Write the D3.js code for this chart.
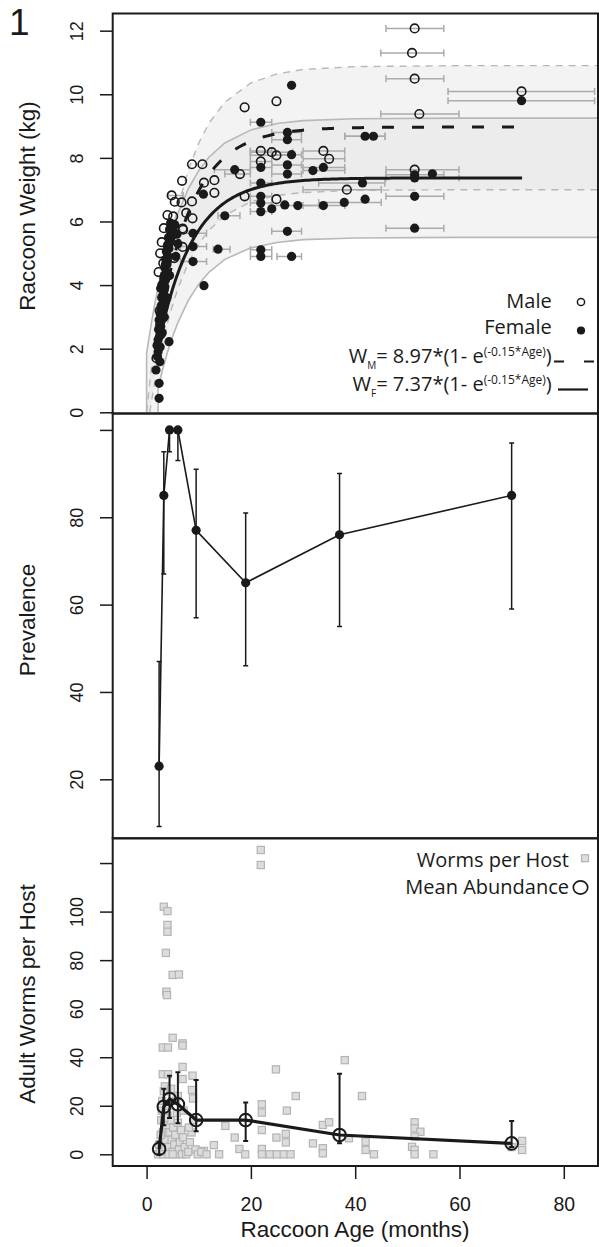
<!DOCTYPE html>
<html>
<head>
<meta charset="utf-8">
<script src="https://cdn.jsdelivr.net/npm/d3@7"></script>
<style>
  body { margin: 0; background: #fff; }
  svg { display: block; }
  .ax { font-family: "Liberation Sans", Arial, Helvetica, sans-serif; }
  .lg { font-family: "Open Sans", "Noto Sans", sans-serif; }
</style>
</head>
<body>
<svg id="chart" width="599" height="1247"></svg>
<script>
// ---- data ----
// weight panel: [age (months), weight (kg), age low, age high]
var maleWeight = [
  [51.4, 12.07, 45.9, 57.0], [50.9, 11.30, 44.9, 57.0], [51.4, 10.49, 45.9, 57.0],
  [71.9, 10.09, 57.8, 85.9], [52.3, 9.38, 44.9, 59.9], [18.8, 9.59], [24.9, 9.78],
  [21.9, 8.22, 19.9, 24.0], [21.9, 7.89, 19.9, 24.0], [24.0, 8.18, 19.9, 28.0],
  [24.9, 8.08, 19.9, 28.0], [33.9, 8.22, 30.0, 38.0], [35.0, 7.97, 30.0, 38.0],
  [17.9, 7.49, 15.0, 19.9], [18.8, 6.79], [24.9, 6.70], [38.4, 7.00, 30.0, 45.0],
  [51.4, 7.63, 45.9, 59.9],
  [8.7, 7.80], [10.7, 7.80], [6.8, 7.28], [11.0, 7.22], [13.0, 7.30], [13.0, 6.90],
  [4.8, 6.82, 4.2, 7.0], [5.4, 6.62], [6.7, 6.60], [7.6, 6.27], [8.7, 6.63], [8.8, 6.10],
  [6.9, 5.78], [3.3, 5.79], [6.9, 5.20], [5.3, 4.85], [2.3, 4.41], [3.2, 4.69], [1.9, 1.70],
  [2.6, 5.00], [2.9, 5.35], [4.0, 6.20], [7.0, 5.74], [5.1, 6.16], [3.0, 4.00], [2.5, 3.20]
];
var femaleWeight = [
  [27.8, 10.28], [21.9, 9.12, 19.9, 24.0], [71.9, 9.80, 57.8, 85.9],
  [27.0, 8.80, 24.0, 29.7], [27.0, 8.57, 24.0, 29.7], [41.9, 8.68, 38.0, 45.7],
  [43.5, 8.68, 38.0, 45.7], [16.9, 7.63, 13.0, 19.9], [21.9, 7.70, 19.9, 24.0],
  [27.8, 8.10, 24.0, 29.7], [27.0, 7.78, 24.0, 29.7], [27.0, 7.49, 24.0, 29.7],
  [31.9, 7.60, 30.0, 38.0], [33.9, 7.70, 30.0, 38.0], [21.9, 7.21, 19.9, 24.0],
  [21.9, 6.79, 19.9, 24.0], [21.9, 6.58, 19.9, 24.0], [21.9, 6.31, 19.9, 24.0],
  [24.0, 6.40], [29.0, 6.50, 24.0, 33.0], [33.9, 6.50, 30.0, 38.0], [37.9, 6.60, 33.0, 45.0],
  [41.9, 6.70], [41.4, 7.21, 33.0, 45.7], [51.4, 7.47, 45.9, 57.0], [51.4, 7.37, 45.9, 59.9],
  [54.8, 7.50], [51.4, 6.79, 45.9, 57.0], [51.4, 5.79, 45.9, 57.0], [27.0, 5.69, 24.0, 29.7],
  [21.9, 5.11, 19.9, 24.0], [21.9, 4.90, 19.9, 24.0], [27.8, 4.90, 25.0, 29.7],
  [15.0, 6.18, 13.7, 17.9], [10.9, 6.86], [8.9, 5.63, 6.5, 11.5], [8.9, 5.21, 6.5, 11.5],
  [8.9, 4.74, 6.5, 11.5], [13.7, 5.13, 12.8, 16.0], [11.0, 3.98], [26.5, 6.52],
  // young females, the dense cloud
  [2.4, 0.44], [2.4, 0.91], [1.8, 1.33], [2.55, 1.59], [2.2, 1.90], [2.0, 2.10], [2.2, 2.28],
  [4.3, 2.22], [2.5, 2.40], [2.3, 2.60], [2.7, 2.70], [2.4, 2.90], [2.9, 2.90], [2.6, 3.10],
  [3.0, 3.20], [2.8, 3.35], [3.2, 3.45], [2.9, 3.60], [3.3, 3.70], [3.1, 3.85], [3.5, 3.95],
  [3.2, 4.05], [3.6, 4.15], [3.4, 4.30], [3.8, 4.40], [3.5, 4.55], [3.9, 4.65], [3.7, 4.80],
  [4.1, 4.90], [3.8, 5.05], [4.3, 5.15], [4.0, 5.25], [4.5, 5.35], [4.2, 5.50], [4.7, 5.60],
  [4.4, 5.75], [5.0, 5.80], [4.6, 5.95], [5.4, 5.90], [5.8, 5.60], [6.0, 5.30], [5.6, 4.90],
  [3.0, 2.50], [3.4, 3.00], [2.7, 3.90], [3.9, 3.60], [4.4, 4.30],
  [2.1, 1.75], [2.6, 2.05], [2.8, 2.45], [2.5, 2.75], [3.1, 2.95], [2.7, 3.25], [3.3, 3.30],
  [3.0, 3.65], [3.4, 3.85], [3.3, 4.20], [3.7, 4.35], [3.6, 4.65], [4.0, 4.75], [3.9, 5.10],
  [4.2, 5.30], [4.6, 5.45], [4.9, 5.55], [5.2, 5.65]
];
// fitted curves, as printed in the legend: W = asym * (1 - e^(-rate*Age))
var maleFit = { asym: 8.97, rate: 0.15 };
var femaleFit = { asym: 7.37, rate: 0.15 };
// envelope boundaries [age, kg]
var femaleUpper = [[0, 0], [0, 1.86], [1, 2.89], [2, 3.78], [3, 4.54], [4, 5.20], [5, 5.76], [6, 6.25],
  [8, 7.03], [10, 7.60], [12, 8.03], [15, 8.47], [20, 8.88], [25, 9.08], [30, 9.17], [40, 9.23], [60, 9.25], [90, 9.25]];
var femaleLower = [[2.2, 0], [2.2, 0.77], [3, 1.30], [4, 1.89], [5, 2.39], [6, 2.82], [8, 3.52], [10, 4.03],
  [12, 4.41], [15, 4.81], [20, 5.17], [25, 5.34], [30, 5.43], [40, 5.48], [60, 5.50], [90, 5.50]];
var maleUpper = [[0, 0], [1, 1.52], [2, 2.83], [3, 3.95], [4, 4.92], [5, 5.75], [6, 6.47], [8, 7.62],
  [10, 8.47], [12, 9.10], [15, 9.75], [20, 10.36], [25, 10.64], [30, 10.78], [40, 10.87], [60, 10.90], [90, 10.90]];
var maleLower = [[0.6, 0], [1, 0.41], [2, 1.33], [3, 2.12], [4, 2.80], [5, 3.38], [6, 3.89], [8, 4.69],
  [10, 5.29], [12, 5.73], [15, 6.19], [20, 6.62], [25, 6.82], [30, 6.91], [40, 6.98], [60, 7.00], [90, 7.00]];

// age classes shared by prevalence and abundance
var ageClass = [2.4, 3.3, 4.4, 6.0, 9.5, 19, 37, 70];
var prevalence = [23, 85, 100, 100, 77, 65, 76, 85];
var prevLow = [9.2, 67, 95, 93, 57, 46, 55, 59];
var prevHigh = [47, 95, 100, 100, 91, 81, 90, 97];
var abundance = [2.2, 19.6, 22.8, 20.6, 14.1, 14.1, 7.95, 4.5];
var abundLow = [0, 12, 15, 12.8, 9.5, 5.5, 4.6, 3];
var abundHigh = [5.2, 27, 32.4, 33.8, 30.6, 21.3, 33.2, 13.7];

// individual hosts: [age, worms]
var wormsPerHost = [
  [21.9, 125.4], [21.9, 119.2], [3.3, 102], [4.0, 100.2], [4.0, 94.5], [4.0, 91.7], [3.7, 83],
  [5.0, 73.9], [6.2, 74.1], [3.8, 67], [3.9, 65.6], [3.1, 44], [4.1, 44], [5.0, 48], [6.9, 45.7],
  [6.9, 44.8], [6.9, 36], [3.1, 33], [4.1, 33], [6.9, 31], [8.8, 32.4], [8.7, 26.5], [8.9, 23],
  [24.8, 35], [28.6, 24], [22.1, 20.6], [22.1, 17.2], [26.9, 18], [15.1, 11.7], [16.9, 6.9],
  [22.1, 10], [24.9, 6.9], [26.7, 8.4], [26.7, 4.9], [12.9, 3.8], [11.0, 1.4], [13.9, 0],
  [17.8, 2.2], [18.9, 0], [22.1, 2.2], [22.1, 0], [23.6, 0], [25.0, 0], [26.3, 0], [27.6, 0],
  [38.0, 38.8], [41.3, 24], [33.8, 12.1], [35.0, 13.2], [31.9, 4.5], [33.8, 2.5], [33.8, 0.4],
  [38.8, 6.6], [42.0, 5.2], [42.0, 1.8], [43.6, 0], [51.4, 13.2], [51.4, 10.7], [52.5, 9.3],
  [51.4, 7.3], [50.9, 3.1], [51.4, 1.8], [51.4, 0], [55.0, 0], [72.0, 5.5], [72.0, 1.8], [70, 3],
  [2.2, 0], [2.4, 4], [2.6, 1], [2.8, 14], [2.9, 18], [3.0, 22], [3.1, 9], [3.3, 26], [3.5, 28],
  [3.6, 2], [3.7, 6], [3.8, 12], [4.0, 16], [4.1, 20], [4.3, 3], [4.4, 9], [4.6, 14], [4.8, 6],
  [5.0, 1], [5.1, 11], [5.3, 4], [5.5, 8], [5.7, 0], [5.8, 17], [6.0, 13], [6.2, 2], [6.4, 5],
  [6.6, 10], [6.8, 0], [7.0, 7], [7.3, 3], [7.6, 0], [8.0, 1], [8.3, 5], [8.6, 9], [9.0, 14],
  [9.4, 2], [9.8, 0], [10.5, 1], [11.5, 0], [3.2, 0], [4.2, 0], [5.0, 0], [6.0, 24], [7.1, 18],
  [2.7, 8], [3.4, 15], [4.7, 27], [5.6, 22], [8.1, 11]
];

var weightTicks = [0, 2, 4, 6, 8, 10, 12];
var prevTicks = [20, 40, 60, 80, 100], prevLabels = [20, 40, 60, 80];
var wormTicks = [0, 20, 40, 60, 80, 100, 120], wormLabels = [0, 20, 40, 60, 80, 100];
var ageTicks = [0, 20, 40, 60, 80];

// ---- layout ----
var ink = "#1a1a1a";
var svg = d3.select("#chart");
var left = 112.7, right = 598;
var p1 = { top: 13.5, bottom: 413.5 },
    p2 = { top: 413.5, bottom: 838.3 },
    p3 = { top: 838.3, bottom: 1166 };

var x = d3.scaleLinear().domain([-6.5, 86.56]).range([left, right]);
var yW = d3.scaleLinear().domain([-0.038, 12.54]).range([p1.bottom, p1.top]);
var yP = d3.scaleLinear().domain([6.49, 103.76]).range([p2.bottom, p2.top]);
var yA = d3.scaleLinear().domain([-4.82, 130.2]).range([p3.bottom, p3.top]);

svg.append("defs").append("clipPath").attr("id", "clip1")
   .append("rect").attr("x", left).attr("y", p1.top)
   .attr("width", right - left).attr("height", p1.bottom - p1.top);

function yAxis(scale, ticks, labels) {
    var g = svg.append("g").attr("class", "ax").attr("transform", "translate(" + left + ",0)")
        .call(d3.axisLeft(scale).tickValues(ticks).tickSize(12.7)
              .tickFormat(function(d) { return labels.indexOf(d) >= 0 ? d : ""; }));
    g.attr("font-family", null).attr("font-size", 18);
    g.select(".domain").remove();
    g.selectAll(".tick line").attr("stroke", ink).attr("stroke-width", 1.5);
    g.selectAll(".tick text").attr("x", 0).attr("dy", 0).attr("fill", ink)
     .attr("text-anchor", "middle").attr("transform", "translate(-29.7,0) rotate(-90)");
}

function yTitle(label, cy) {
    svg.append("text").attr("class", "ax").attr("font-size", 22.5).attr("fill", ink)
       .attr("text-anchor", "middle")
       .attr("transform", "translate(35," + cy + ") rotate(-90)").text(label);
}

// ---- panel 1: weight ----
var g1 = svg.append("g").attr("clip-path", "url(#clip1)");
var lineW = d3.line().x(function(d) { return x(d[0]); }).y(function(d) { return yW(d[1]); });

[[femaleUpper, femaleLower], [maleUpper, maleLower]].forEach(function(b) {
    g1.append("path").attr("d", lineW(b[0].concat(b[1].slice().reverse())) + "Z")
      .attr("fill", "#e4e4e4").attr("fill-opacity", 0.45).attr("stroke", "none");
});
[femaleUpper, femaleLower].forEach(function(b) {
    g1.append("path").attr("d", lineW(b)).attr("fill", "none")
      .attr("stroke", "#b8b8b8").attr("stroke-width", 1.6);
});
[maleUpper, maleLower].forEach(function(b) {
    g1.append("path").attr("d", lineW(b)).attr("fill", "none")
      .attr("stroke", "#b8b8b8").attr("stroke-width", 1.4).attr("stroke-dasharray", "7,6");
});

var withBars = maleWeight.concat(femaleWeight).filter(function(d) { return d.length > 2; });
var bars = g1.append("g").attr("stroke", "#ababab").attr("stroke-width", 1.5).attr("fill", "none");
bars.selectAll("path").data(withBars).enter().append("path")
    .attr("d", function(d) {
        var a = x(d[2]), b = x(d[3]), yy = yW(d[1]);
        return "M" + a + "," + yy + "H" + b + "M" + a + "," + (yy - 3.5) + "V" + (yy + 3.5) +
               "M" + b + "," + (yy - 3.5) + "V" + (yy + 3.5);
    });

g1.append("g").selectAll("circle").data(maleWeight).enter().append("circle")
  .attr("cx", function(d) { return x(d[0]); }).attr("cy", function(d) { return yW(d[1]); })
  .attr("r", 4.3).attr("fill", "none").attr("stroke", ink).attr("stroke-width", 1.6);
g1.append("g").selectAll("circle").data(femaleWeight).enter().append("circle")
  .attr("cx", function(d) { return x(d[0]); }).attr("cy", function(d) { return yW(d[1]); })
  .attr("r", 4.6).attr("fill", ink);

var fitAges = d3.range(2, 72.01, 0.5);
function fitPoints(f) {
    return fitAges.map(function(a) { return [a, f.asym * (1 - Math.exp(-f.rate * a))]; });
}
g1.append("path").attr("d", lineW(fitPoints(maleFit))).attr("fill", "none")
  .attr("stroke", ink).attr("stroke-width", 3).attr("stroke-dasharray", "12,18");
g1.append("path").attr("d", lineW(fitPoints(femaleFit))).attr("fill", "none")
  .attr("stroke", ink).attr("stroke-width", 3);

yAxis(yW, weightTicks, weightTicks);
yTitle("Raccoon Weight (kg)", 206);

// legend of panel 1
function lgText(xx, yy, s) {
    return svg.append("text").attr("class", "lg").attr("x", xx).attr("y", yy)
              .attr("text-anchor", "end").attr("font-size", 20).attr("fill", ink).text(s);
}
lgText(551.7, 308.3, "Male");
lgText(551.7, 334.3, "Female");
svg.append("circle").attr("cx", 581).attr("cy", 302).attr("r", 3.6)
   .attr("fill", "none").attr("stroke", ink).attr("stroke-width", 1.5);
svg.append("circle").attr("cx", 581).attr("cy", 330.5).attr("r", 4.1).attr("fill", ink);

function eqLegend(yy, sub, f) {
    var t = lgText(551.7, yy, null);
    t.append("tspan").text("W");
    t.append("tspan").attr("font-size", 10).attr("dy", 6).text(sub);
    t.append("tspan").attr("dy", -6).text("= " + f.asym + "*(1- e");
    t.append("tspan").attr("font-size", 12).attr("dy", -7).text("(-" + f.rate + "*Age)");
    t.append("tspan").attr("dy", 7).text(")");
}
eqLegend(363.3, "M", maleFit);
eqLegend(390.7, "F", femaleFit);
svg.append("line").attr("x1", 554).attr("x2", 594).attr("y1", 361.5).attr("y2", 361.5)
   .attr("stroke", ink).attr("stroke-width", 2.2).attr("stroke-dasharray", "10,20");
svg.append("line").attr("x1", 558).attr("x2", 588).attr("y1", 389.5).attr("y2", 389.5)
   .attr("stroke", ink).attr("stroke-width", 2.2);

// ---- panel 2: prevalence ----
var g2 = svg.append("g");
g2.append("g").attr("stroke", ink).attr("stroke-width", 1.5).selectAll("path")
  .data(ageClass).enter().append("path")
  .attr("d", function(a, i) {
      var xx = x(a), lo = yP(prevLow[i]), hi = yP(prevHigh[i]);
      return "M" + xx + "," + lo + "V" + hi + "M" + (xx - 2.5) + "," + lo + "H" + (xx + 2.5) +
             "M" + (xx - 2.5) + "," + hi + "H" + (xx + 2.5);
  });
g2.append("path")
  .attr("d", d3.line().x(function(a) { return x(a); })
                      .y(function(a, i) { return yP(prevalence[i]); })(ageClass))
  .attr("fill", "none").attr("stroke", ink).attr("stroke-width", 1.6);
g2.append("g").selectAll("circle").data(ageClass).enter().append("circle")
  .attr("cx", function(a) { return x(a); }).attr("cy", function(a, i) { return yP(prevalence[i]); })
  .attr("r", 4.6).attr("fill", ink);

yAxis(yP, prevTicks, prevLabels);
yTitle("Prevalence", 620);

// ---- panel 3: worms per host ----
var g3 = svg.append("g");
g3.append("g").selectAll("rect").data(wormsPerHost).enter().append("rect")
  .attr("x", function(d) { return x(d[0]) - 3.6; }).attr("y", function(d) { return yA(d[1]) - 3.6; })
  .attr("width", 7.2).attr("height", 7.2)
  .attr("fill", "#dcdcdc").attr("stroke", "#b4b4b4").attr("stroke-width", 1.2);
g3.append("path")
  .attr("d", d3.line().x(function(a) { return x(a); })
                      .y(function(a, i) { return yA(abundance[i]); })(ageClass))
  .attr("fill", "none").attr("stroke", ink).attr("stroke-width", 3.2).attr("stroke-linejoin", "round");
g3.append("g").attr("stroke", ink).attr("stroke-width", 2).selectAll("path")
  .data(ageClass).enter().append("path")
  .attr("d", function(a, i) {
      var xx = x(a), lo = yA(abundLow[i]), hi = yA(abundHigh[i]);
      return "M" + xx + "," + lo + "V" + hi + "M" + (xx - 2.5) + "," + lo + "H" + (xx + 2.5) +
             "M" + (xx - 2.5) + "," + hi + "H" + (xx + 2.5);
  });
g3.append("g").selectAll("circle").data(ageClass).enter().append("circle")
  .attr("cx", function(a) { return x(a); }).attr("cy", function(a, i) { return yA(abundance[i]); })
  .attr("r", 6.3).attr("fill", "none").attr("stroke", ink).attr("stroke-width", 2);

yAxis(yA, wormTicks, wormLabels);
yTitle("Adult Worms per Host", 994);

lgText(569, 866.7, "Worms per Host");
svg.append("rect").attr("x", 581.5).attr("y", 854.7).attr("width", 7).attr("height", 7)
   .attr("fill", "#dcdcdc").attr("stroke", "#b4b4b4").attr("stroke-width", 1.2);
lgText(569, 894.3, "Mean Abundance");
svg.append("ellipse").attr("cx", 580.5).attr("cy", 887.5).attr("rx", 7.2).attr("ry", 6.6)
   .attr("fill", "none").attr("stroke", ink).attr("stroke-width", 1.7);

// ---- x axis ----
var gx = svg.append("g").attr("class", "ax").attr("transform", "translate(0," + p3.bottom + ")")
    .call(d3.axisBottom(x).tickValues(ageTicks).tickSize(13).tickFormat(d3.format("d")));
gx.attr("font-family", null).attr("font-size", 19.5);
gx.select(".domain").remove();
gx.selectAll(".tick line").attr("stroke", ink).attr("stroke-width", 1.5);
gx.selectAll(".tick text").attr("y", 44.7).attr("dy", 0).attr("fill", ink);
svg.append("text").attr("class", "ax").attr("x", 355).attr("y", 1237).attr("font-size", 22.5)
   .attr("text-anchor", "middle").attr("fill", ink).text("Raccoon Age (months)");

// ---- panel boxes ----
[p1, p2, p3].forEach(function(p) {
    svg.append("rect").attr("x", left).attr("y", p.top)
       .attr("width", right - left).attr("height", p.bottom - p.top)
       .attr("fill", "none").attr("stroke", ink).attr("stroke-width", 2);
});

svg.append("text").attr("class", "ax").attr("x", 9).attr("y", 35).attr("font-size", 37)
   .attr("fill", ink).text("1");
</script>
</body>
</html>
